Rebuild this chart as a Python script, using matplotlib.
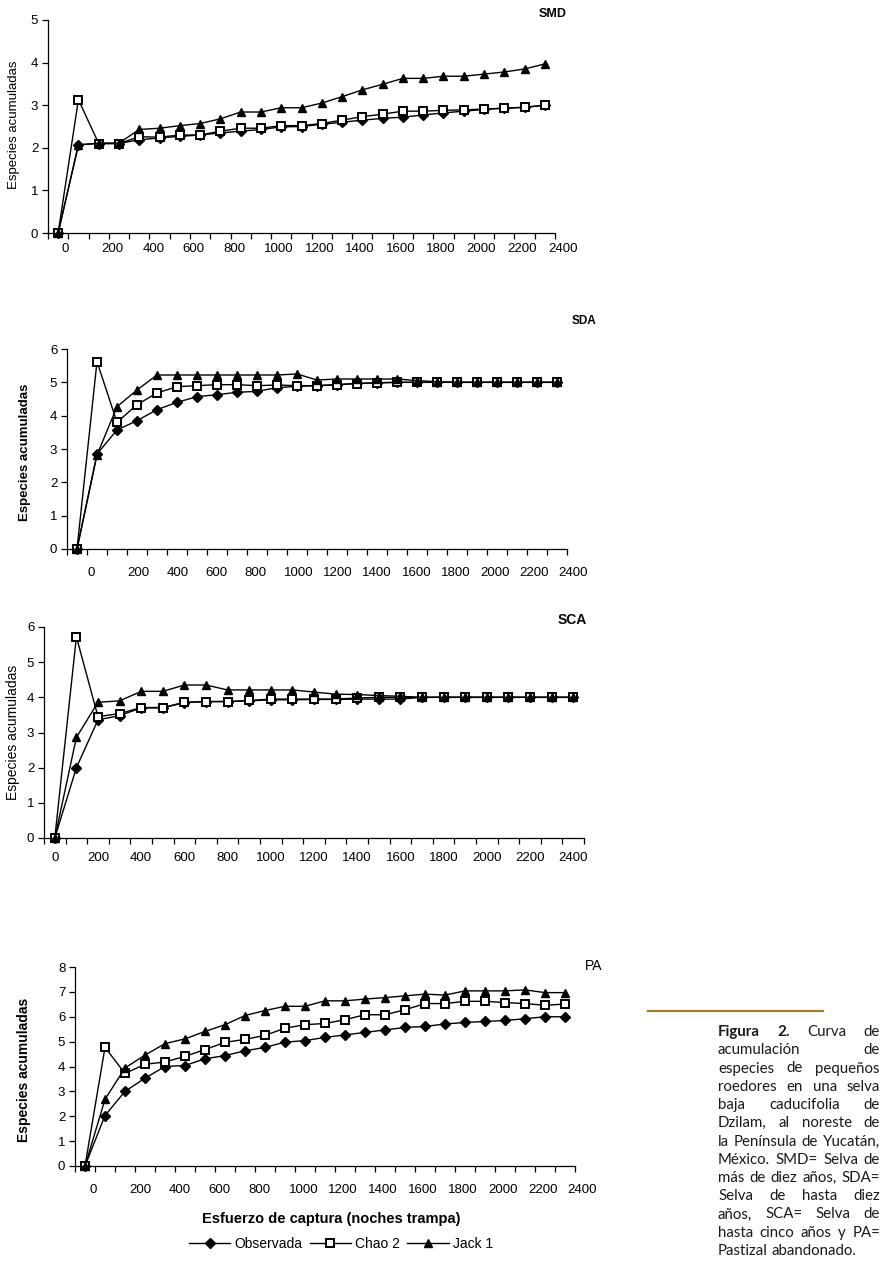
import matplotlib
matplotlib.use('Agg')
import matplotlib.pyplot as plt

plt.rcParams['font.family'] = ['Liberation Sans', 'DejaVu Sans']

W, H = 889, 1265

# esfuerzo de captura (noches trampa), eje de categorias
esfuerzo = [0, 100, 200, 300, 400, 500, 600, 700, 800, 900, 1000, 1100, 1200,
            1300, 1400, 1500, 1600, 1700, 1800, 1900, 2000, 2100, 2200, 2300, 2400]
valores_x = [0, 200, 400, 600, 800, 1000, 1200, 1400, 1600, 1800, 2000, 2200, 2400]
etiquetas_x = ['0', '200', '400', '600', '800', '1000', '1200', '1400', '1600',
               '1800', '2000', '2200', '2400']

# SMD
smd_obs = [0, 2.07, 2.10, 2.10, 2.19, 2.23, 2.27, 2.30, 2.35, 2.39, 2.43, 2.49, 2.50,
           2.55, 2.60, 2.65, 2.69, 2.72, 2.77, 2.82, 2.86, 2.90, 2.93, 2.95, 3.00]
smd_chao = [0, 3.13, 2.10, 2.10, 2.26, 2.25, 2.30, 2.30, 2.39, 2.46, 2.46, 2.52, 2.52,
            2.57, 2.65, 2.73, 2.79, 2.86, 2.86, 2.88, 2.89, 2.91, 2.93, 2.95, 3.00]
smd_jack = [0, 2.07, 2.11, 2.11, 2.43, 2.46, 2.52, 2.57, 2.68, 2.84, 2.84, 2.94, 2.94,
            3.05, 3.20, 3.36, 3.49, 3.63, 3.63, 3.68, 3.68, 3.73, 3.78, 3.85, 3.97]

# SDA
sda_obs = [0, 2.85, 3.57, 3.85, 4.18, 4.40, 4.57, 4.63, 4.70, 4.73, 4.84, 4.88, 4.90,
           4.93, 4.97, 4.98, 5.0, 5.0, 5.0, 5.0, 5.0, 5.0, 5.0, 5.0, 5.0]
sda_chao = [0, 5.62, 3.80, 4.33, 4.68, 4.87, 4.90, 4.93, 4.93, 4.90, 4.92, 4.90, 4.90,
            4.93, 4.96, 4.99, 5.0, 5.0, 5.0, 5.0, 5.0, 5.0, 5.0, 5.0, 5.0]
sda_jack = [0, 2.82, 4.27, 4.77, 5.22, 5.22, 5.22, 5.22, 5.22, 5.22, 5.22, 5.25, 5.07,
            5.10, 5.10, 5.10, 5.10, 5.05, 5.02, 5.0, 5.0, 5.0, 5.0, 5.0, 5.0]

# SCA
sca_obs = [0, 2.00, 3.36, 3.48, 3.70, 3.70, 3.85, 3.88, 3.88, 3.90, 3.93, 3.93, 3.94,
           3.94, 3.95, 3.95, 3.95, 4.0, 4.0, 4.0, 4.0, 4.0, 4.0, 4.0, 4.0]
sca_chao = [0, 5.72, 3.45, 3.54, 3.71, 3.71, 3.86, 3.88, 3.88, 3.91, 3.95, 3.95, 3.95,
            3.95, 3.98, 4.0, 4.0, 4.0, 4.0, 4.0, 4.0, 4.0, 4.0, 4.0, 4.0]
sca_jack = [0, 2.86, 3.86, 3.90, 4.17, 4.17, 4.35, 4.35, 4.21, 4.21, 4.21, 4.21, 4.15,
            4.09, 4.08, 4.05, 4.03, 4.0, 4.0, 4.0, 4.0, 4.0, 4.0, 4.0, 4.0]

# PA
pa_obs = [0, 2.03, 3.00, 3.53, 4.00, 4.04, 4.31, 4.44, 4.63, 4.77, 4.98, 5.04, 5.17,
          5.27, 5.37, 5.47, 5.57, 5.61, 5.71, 5.77, 5.81, 5.85, 5.92, 6.00, 6.00]
pa_chao = [0, 4.77, 3.72, 4.09, 4.18, 4.41, 4.68, 4.97, 5.09, 5.25, 5.54, 5.68, 5.73,
           5.88, 6.08, 6.08, 6.28, 6.53, 6.53, 6.62, 6.62, 6.57, 6.53, 6.46, 6.51]
pa_jack = [0, 2.68, 3.94, 4.46, 4.92, 5.11, 5.41, 5.68, 6.05, 6.25, 6.42, 6.42, 6.64,
           6.64, 6.71, 6.77, 6.84, 6.91, 6.87, 7.04, 7.04, 7.04, 7.08, 6.97, 6.97]

fig = plt.figure(figsize=(W / 100, H / 100), dpi=100)


def caja(izq, der, arriba, abajo):
    # pixeles -> fraccion de la figura
    return [izq / W, 1 - abajo / H, (der - izq) / W, (abajo - arriba) / H]


def dibujar_panel(rect, obs, chao, jack, ymax, desplaz, alinear, pad, paso=200):
    ax = fig.add_axes(rect)
    l1, = ax.plot(esfuerzo, obs, color='black', lw=1.0, marker='D', ms=4.6,
                  mfc='black', mec='black')
    l2, = ax.plot(esfuerzo, chao, color='black', lw=1.0, marker='s', ms=5.4,
                  mfc='white', mec='black', mew=1.4)
    l3, = ax.plot(esfuerzo, jack, color='black', lw=1.0, marker='^', ms=6.4,
                  mfc='black', mec='black')
    ax.set_xlim(-50, 2450)
    ax.set_ylim(0, ymax)
    for lado in ['top', 'right']:
        ax.spines[lado].set_visible(False)
    for lado in ['left', 'bottom']:
        ax.spines[lado].set_linewidth(0.9)
    ax.set_yticks(list(range(ymax + 1)))
    ax.tick_params(axis='y', length=4, width=0.9, labelsize=9.5, pad=3)
    # las etiquetas del eje x no caen justo sobre las categorias
    ax.set_xticks([desplaz + v * paso / 200 for v in valores_x], etiquetas_x, ha=alinear)
    ax.set_xticks([-50 + 100 * k for k in range(26)], minor=True)
    ax.tick_params(axis='x', which='major', length=0, labelsize=9.5, pad=pad)
    ax.tick_params(axis='x', which='minor', length=4, width=0.9, direction='out')
    for l in (l1, l2, l3):
        l.set_clip_on(False)
    return ax, (l1, l2, l3)


def texto_px(x, y, s, **kw):
    return fig.text(x / W, 1 - y / H, s, **kw)


ax1, _ = dibujar_panel(caja(48, 555, 20, 233), smd_obs, smd_chao, smd_jack, 5, 15, 'left', 7)
ax2, _ = dibujar_panel(caja(67, 567, 349, 549), sda_obs, sda_chao, sda_jack, 6, 55, 'left', 13, 196)
ax3, _ = dibujar_panel(caja(44, 584, 627, 838), sca_obs, sca_chao, sca_jack, 6, 0, 'center', 10)
ax4, lineas = dibujar_panel(caja(75, 575, 967, 1166), pa_obs, pa_chao, pa_jack, 8, 20, 'left', 13, 199.5)

texto_px(553, 14, 'SMD', fontsize=9, fontweight='bold', ha='center', va='center')
texto_px(584, 321, 'SDA', fontsize=8.5, fontweight='bold', ha='center', va='center')
texto_px(572, 620, 'SCA', fontsize=10, fontweight='bold', ha='center', va='center')
texto_px(594, 966, 'PA', fontsize=10, ha='center', va='center')

texto_px(14, 125, 'Especies acumuladas', fontsize=9.5, rotation=90, ha='center', va='center')
texto_px(25, 452, 'Especies acumuladas', fontsize=9.5, fontweight='bold', rotation=90,
         ha='center', va='center')
texto_px(13, 732, 'Especies acumuladas', fontsize=10, rotation=90, ha='center', va='center')
texto_px(24, 1070, 'Especies acumuladas', fontsize=10, fontweight='bold', rotation=90,
         ha='center', va='center')

texto_px(331, 1219, 'Esfuerzo de captura (noches trampa)', fontsize=10.5,
         fontweight='bold', ha='center', va='center')

fig.legend(lineas, ['Observada', 'Chao 2', 'Jack 1'], loc='center',
           bbox_to_anchor=(341 / W, 1 - 1244 / H), ncol=3, frameon=False,
           fontsize=10, handlelength=3.0, handletextpad=0.3, columnspacing=0.5)

# pie de figura
fig.add_artist(plt.Line2D([648 / W, 823 / W], [1 - 1011 / H, 1 - 1011 / H],
                          color='#9f7c2c', lw=1.6, transform=fig.transFigure))

pie = [
    [('Figura', True), ('2.', True), ('Curva', False), ('de', False)],
    'acumulación de',
    'especies de pequeños',
    'roedores en una selva',
    'baja caducifolia de',
    'Dzilam, al noreste de',
    'la Península de Yucatán,',
    'México. SMD= Selva de',
    'más de diez años, SDA=',
    'Selva de hasta diez',
    'años, SCA= Selva de',
    'hasta cinco años y PA=',
    'Pastizal abandonado.',
]

renderer = fig.canvas.get_renderer()
x0, x1 = 718, 880
for n, linea in enumerate(pie):
    if isinstance(linea, str):
        palabras = [(p, False) for p in linea.split()]
    else:
        palabras = linea
    y = 1036 + n * 18.25
    textos = [texto_px(0, y, p, fontsize=10.8, family=['Lato', 'DejaVu Sans'],
                       fontweight='bold' if b else 'normal', va='baseline', color='#1a1a1a')
              for p, b in palabras]
    anchos = [t.get_window_extent(renderer).width for t in textos]
    if n < len(pie) - 1 and len(textos) > 1:
        hueco = (x1 - x0 - sum(anchos)) / (len(textos) - 1)
    else:
        hueco = 4
    x = x0
    for t, a in zip(textos, anchos):
        t.set_position((x / W, 1 - y / H))
        x += a + hueco

fig.savefig('out.png', dpi=100)
